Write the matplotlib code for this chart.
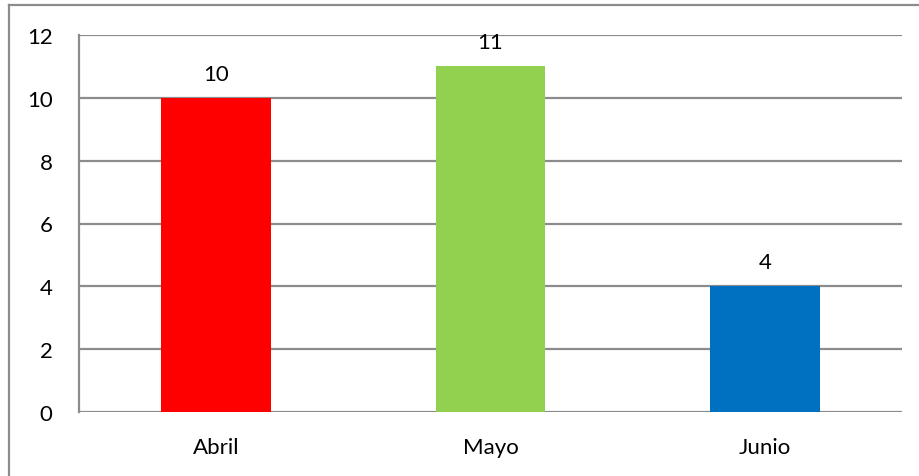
import matplotlib
matplotlib.use("Agg")
import matplotlib.pyplot as plt
from matplotlib.lines import Line2D

meses = ["Abril", "Mayo", "Junio"]
valores = [10, 11, 4]
colores = ["#ff0000", "#92d050", "#0070c0"]
yticks = [0, 2, 4, 6, 8, 10, 12]

plt.rcParams['font.family'] = ['Lato', 'DejaVu Sans']

fig = plt.figure(figsize=(9.2, 4.77), dpi=100)
ax = fig.add_axes([79/920, 1 - 413/477, (902 - 79)/920, (413 - 36)/477])

x = range(len(meses))
ax.bar(x, valores, width=0.4, color=colores, zorder=3)
for i, v in zip(x, valores):
    ax.text(i, v + 0.45, str(v), ha='center', va='bottom', fontsize=16)

ax.set_xlim(-0.5, 2.5)
ax.set_ylim(0, 12)
ax.set_yticks(yticks)
ax.set_xticks(list(x))
ax.set_xticklabels(meses)
ax.tick_params(axis='both', length=0, labelsize=16)
ax.tick_params(axis='y', pad=19)
ax.tick_params(axis='x', pad=18)
ax.grid(axis='y', color='#8c8c8c', linewidth=1.6, zorder=0)
for s in ['top', 'right', 'bottom']:
    ax.spines[s].set_visible(False)
ax.spines['left'].set_color('#8c8c8c')
ax.spines['left'].set_linewidth(1.6)

# borde exterior del grafico
fig.add_artist(Line2D([9/920, 9/920], [0, 1 - 6/477], transform=fig.transFigure, color='#8c8c8c', lw=1.6))
fig.add_artist(Line2D([9/920, 1], [1 - 6/477, 1 - 6/477], transform=fig.transFigure, color='#8c8c8c', lw=1.6))

fig.savefig("out.png", dpi=100)
